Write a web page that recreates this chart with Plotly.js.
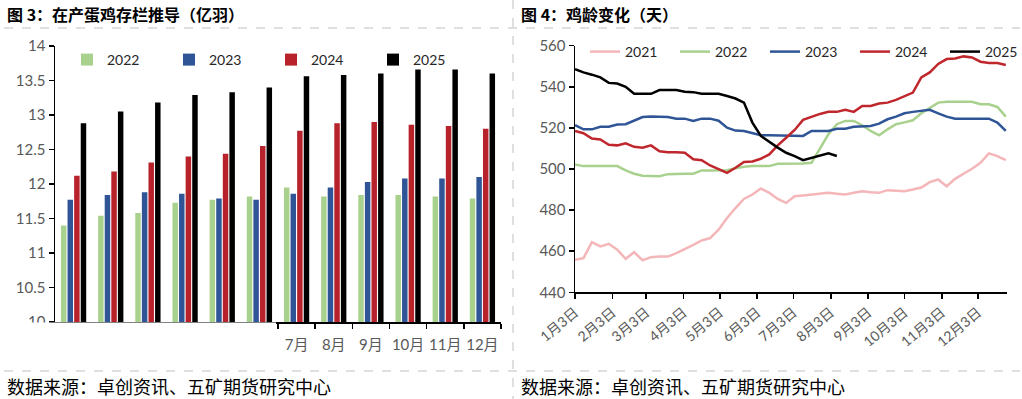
<!DOCTYPE html>
<html><head><meta charset="utf-8">
<script src="https://cdn.plot.ly/plotly-3.0.1.min.js"></script>
<style>html,body{margin:0;padding:0;background:#fff;overflow:hidden;} #chart{width:1022px;height:399px;}</style>
</head><body><div id="chart"></div>
<script>
// ---- Left chart: 在产蛋鸡存栏推导（亿羽）
const months = ['1月','2月','3月','4月','5月','6月','7月','8月','9月','10月','11月','12月'];
const monthLabels = ['','','','','','','7月','8月','9月','10月','11月','12月'];
const stock2022 = [11.40,11.54,11.58,11.73,11.77,11.82,11.95,11.82,11.84,11.84,11.82,11.79];
const stock2023 = [11.77,11.84,11.88,11.86,11.79,11.77,11.86,11.95,12.03,12.08,12.08,12.10];
const stock2024 = [12.12,12.18,12.31,12.40,12.44,12.55,12.77,12.88,12.90,12.86,12.84,12.80];
const stock2025 = [12.88,13.05,13.18,13.29,13.33,13.40,13.56,13.58,13.60,13.66,13.66,13.60];

// ---- Right chart: 鸡龄变化（天）  x = days after 1月3日, weekly
const weekDays = [0,7,14,21,28,35,42,49,56,63,70,77,84,91,98,105,112,119,126,133,140,147,154,161,168,175,182,189,196,203,210,217,224,231,238,245,252,259,266,273,280,287,294,301,308,315,322,329,336,343,350,357];
const dateTicks = [0,31,59,90,120,151,181,212,243,273,304,334];
const dateLabels = ['1月3日','2月3日','3月3日','4月3日','5月3日','6月3日','7月3日','8月3日','9月3日','10月3日','11月3日','12月3日'];
const age2021 = [455.8,456.6,464.4,462.3,463.6,460.7,456.3,459.5,455.6,457.1,457.4,457.4,459.1,461.3,463.1,465.2,466.4,470.5,476.2,481.0,485.4,487.6,490.5,488.4,485.4,483.5,486.7,487.1,487.6,487.9,488.4,488.0,487.6,488.4,489.2,488.7,488.4,489.7,489.3,489.2,490.0,491.0,493.6,494.9,491.6,495.2,497.7,500.1,503.0,507.6,506.3,504.3];
const age2022 = [502.2,501.4,501.4,501.4,501.4,501.4,499.3,497.7,496.7,496.5,496.5,497.5,497.7,497.7,497.7,499.3,499.3,499.4,499.4,500.4,501.1,501.4,501.4,501.4,502.5,502.5,502.5,502.7,503.0,509.9,516.9,521.8,523.4,523.4,521.3,518.5,516.4,519.3,521.8,522.7,523.7,527.1,529.9,532.3,532.7,532.7,532.7,532.7,531.5,531.5,530.2,525.5];
const age2023 = [521.3,519.3,519.3,520.5,520.6,521.6,521.8,523.7,525.3,525.5,525.5,525.3,524.5,524.5,523.4,524.5,524.5,523.5,520.1,518.7,518.5,517.4,516.4,516.4,516.4,516.4,516.4,516.1,518.5,518.5,518.5,519.6,519.6,520.6,520.6,520.9,522.1,524.2,525.5,527.1,527.8,528.3,528.8,527.1,525.5,524.5,524.5,524.5,524.5,524.5,522.6,518.5];
const age2024 = [518.5,517.4,514.8,514.4,511.8,511.5,512.5,510.8,510.4,511.5,508.6,508.2,508.2,507.9,504.7,504.3,501.7,499.8,498.1,500.6,503.4,503.7,505.0,507.1,511.5,515.2,519.0,523.9,525.3,526.8,527.8,527.8,528.8,527.8,530.7,530.7,531.9,532.3,533.6,535.6,537.2,544.6,547.0,551.1,553.5,553.8,554.8,554.3,552.2,551.6,551.6,550.6];
const age2025 = [548.6,547.0,545.9,544.6,541.9,541.6,540.0,536.6,536.6,536.6,538.4,538.4,538.4,537.6,537.4,536.6,536.6,536.6,535.5,534.3,532.3,522.6,516.1,513.1,510.4,507.9,506.3,504.3,505.5,506.6,507.6,506.3];

const W = 1022, H = 399;
const px = v => v / W;
const py = v => 1 - v / H;

const barColors = ['#A9D18E','#2F5597','#B8232B','#000000'];
const barSeries = [stock2022, stock2023, stock2024, stock2025];
const barNames = ['2022','2023','2024','2025'];
const lineColors = ['#F4B6B8','#A9D18E','#2F5597','#C0272D','#000000'];
const lineSeries = [age2021, age2022, age2023, age2024, age2025];
const lineNames = ['2021','2022','2023','2024','2025'];

const traces = [];
barSeries.forEach((s, i) => traces.push({
  type: 'bar', x: months, y: s, name: barNames[i], xaxis: 'x', yaxis: 'y',
  marker: {color: barColors[i], line: {width: 0}}, legend: 'legend', hoverinfo: 'skip'
}));
lineSeries.forEach((s, i) => traces.push({
  type: 'scatter', mode: 'lines', x: weekDays.slice(0, s.length), y: s, name: lineNames[i],
  xaxis: 'x2', yaxis: 'y2', line: {color: lineColors[i], width: 2.5}, legend: 'legend2', hoverinfo: 'skip'
}));

const fam = 'Lato, "Noto Sans CJK SC", sans-serif';
const tickFont = {family: fam, size: 15, color: '#595959'};
const dashLine = {color: '#BFBFBF', width: 1, dash: 'dash'};
const axBase = {showline: true, linecolor: '#000', linewidth: 1.5, ticks: 'outside', ticklen: 5,
  tickcolor: '#000', tickwidth: 1.5, showgrid: false, zeroline: false, fixedrange: true};

const layout = {
  width: W, height: H, margin: {l: 0, r: 0, t: 0, b: 0, autoexpand: false},
  paper_bgcolor: '#fff', plot_bgcolor: 'rgba(0,0,0,0)',
  font: {family: fam, color: '#262626'},
  barmode: 'group', bargap: 0.29, bargroupgap: 0.17,
  xaxis: Object.assign({}, axBase, {domain: [px(55), px(501)], anchor: 'y', type: 'category', tickvals: months,
    ticktext: monthLabels, tickangle: 0, tickson: 'boundaries', tickfont: tickFont, ticklabelstandoff: 8, automargin: false}),
  yaxis: Object.assign({}, axBase, {domain: [py(322), py(46)], anchor: 'x', range: [10, 14], dtick: 0.5, tick0: 10,
    tickfont: tickFont, automargin: false}),
  xaxis2: Object.assign({}, axBase, {domain: [px(575), px(1007)], anchor: 'y2', range: [0, 358], tickvals: dateTicks,
    ticktext: dateLabels, tickangle: -40, tickfont: {family: fam, size: 14, color: '#595959'}, automargin: false}),
  yaxis2: Object.assign({}, axBase, {domain: [py(292.3), py(45.7)], anchor: 'x2', range: [440, 560], dtick: 20, tick0: 440,
    tickfont: tickFont, automargin: false}),
  legend: {orientation: 'h', x: px(67), y: py(44), xanchor: 'left', yanchor: 'top',
    entrywidth: 57, entrywidthmode: 'pixels', font: {size: 14, color: '#262626'}, bgcolor: 'rgba(0,0,0,0)', traceorder: 'normal'},
  legend2: {orientation: 'h', x: px(585), y: py(36), xanchor: 'left', yanchor: 'top',
    entrywidth: 45, entrywidthmode: 'pixels', font: {size: 14, color: '#262626'}, bgcolor: 'rgba(0,0,0,0)', traceorder: 'normal'},
  shapes: [
    {type: 'line', xref: 'paper', yref: 'paper', x0: px(4), x1: px(1020), y0: py(28), y1: py(28), line: dashLine},
    {type: 'line', xref: 'paper', yref: 'paper', x0: px(4), x1: px(1020), y0: py(371), y1: py(371), line: dashLine},
    {type: 'line', xref: 'paper', yref: 'paper', x0: px(513), x1: px(513), y0: py(0), y1: py(399), line: dashLine},
    {type: 'rect', xref: 'paper', yref: 'paper', x0: px(0), x1: px(276), y0: py(334), y1: py(322.6), layer: 'above',
      fillcolor: '#fff', line: {width: 0}}
  ],
  annotations: [
    {xref: 'paper', yref: 'paper', x: px(5), y: py(14), xanchor: 'left', yanchor: 'middle', showarrow: false,
      text: '<b>图 3：在产蛋鸡存栏推导（亿羽）</b>', font: {family: '"Noto Sans CJK SC", sans-serif', size: 16, color: '#000'}},
    {xref: 'paper', yref: 'paper', x: px(519), y: py(14), xanchor: 'left', yanchor: 'middle', showarrow: false,
      text: '<b>图 4：鸡龄变化（天）</b>', font: {family: '"Noto Sans CJK SC", sans-serif', size: 16, color: '#000'}},
    {xref: 'paper', yref: 'paper', x: px(5), y: py(386), xanchor: 'left', yanchor: 'middle', showarrow: false,
      text: '数据来源：卓创资讯、五矿期货研究中心', font: {family: '"Noto Sans CJK SC", sans-serif', size: 18, color: '#000'}},
    {xref: 'paper', yref: 'paper', x: px(519), y: py(386), xanchor: 'left', yanchor: 'middle', showarrow: false,
      text: '数据来源：卓创资讯、五矿期货研究中心', font: {family: '"Noto Sans CJK SC", sans-serif', size: 18, color: '#000'}}
  ]
};

Plotly.newPlot('chart', traces, layout, {displayModeBar: false, staticPlot: true});
</script>
</body></html>
